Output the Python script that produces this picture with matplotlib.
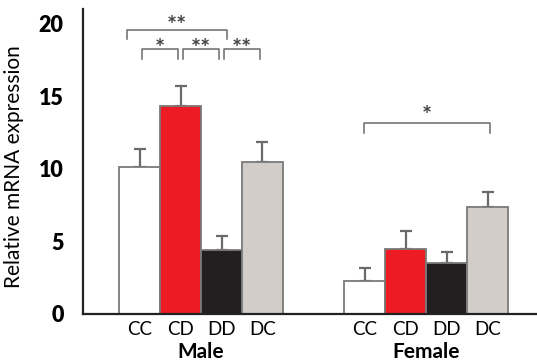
import numpy as np
import matplotlib
matplotlib.use('Agg')
import matplotlib.pyplot as plt

plt.rcParams['font.family'] = ['Lato', 'DejaVu Sans']

# data
genotypes = ['CC', 'CD', 'DD', 'DC']
groups = ['Male', 'Female']
male_mean = [10.1, 14.3, 4.4, 10.5]
male_err = [1.3, 1.4, 0.95, 1.35]
female_mean = [2.3, 4.5, 3.5, 7.4]
female_err = [0.85, 1.2, 0.75, 1.0]
bar_colors = ['#ffffff', '#ed1c24', '#231f20', '#d3cdca']

# significance brackets: (group, first bar, last bar, label)
brackets = [
    (0, 0, 2, '**'),
    (0, 0, 1, '*'),
    (0, 1, 2, '**'),
    (0, 2, 3, '**'),
    (1, 0, 3, '*'),
]

fig = plt.figure(figsize=(5.37, 3.62), dpi=100)
ax = fig.add_axes([0.1546, 0.1326, 0.8454, 0.842])

offsets = [0, 5.5]
means = [male_mean, female_mean]
errs = [male_err, female_err]
edge = '#7a7a7a'

for g in range(2):
    x = np.arange(4) + offsets[g]
    ax.bar(x, means[g], width=1.0, color=bar_colors, edgecolor=edge,
           linewidth=1.3, zorder=2)
    ax.errorbar(x, means[g], yerr=[np.zeros(4), errs[g]], fmt='none',
                ecolor='#6a6a6a', elinewidth=1.6, capsize=4.5,
                capthick=1.6, zorder=1)
    for xi, lab in zip(x, genotypes):
        ax.text(xi, -0.5, lab, ha='center', va='top', fontsize=13.5)
    ax.text(x.mean(), -1.95, groups[g], ha='center', va='top',
            fontsize=15, fontweight='bold')

# bracket geometry
for g, i, j, lab in brackets:
    x0 = offsets[g]
    if g == 0 and j - i > 1:
        xa, xb, y, dy = x0 + i - 0.3, x0 + j + 0.13, 19.6, 0.2
    elif g == 0:
        xa, xb, y, dy = x0 + i + 0.05, x0 + j - 0.07, 18.25, 0.0
    else:
        xa, xb, y, dy = x0 + i - 0.02, x0 + j + 0.05, 13.15, 0.45
    h = 0.65
    ax.plot([xa, xa, xb, xb], [y - h, y, y, y - h], color='#6a6a6a',
            lw=1.1, zorder=3, clip_on=False)
    ax.text((xa + xb) / 2, y + dy, lab, ha='center', va='center',
            fontsize=17, color='#444444', fontweight='bold')

ax.set_xlim(-1.38, 9.7)
ax.set_ylim(0, 21)
ax.set_yticks([0, 5, 10, 15, 20])
ax.set_yticklabels(['0', '5', '10', '15', '20'], fontsize=15.5, fontweight='heavy')
ax.tick_params(axis='y', length=0, pad=14)
ax.set_xticks([])
ax.spines['top'].set_visible(False)
ax.spines['right'].set_visible(False)
for s in ['left', 'bottom']:
    ax.spines[s].set_linewidth(1.6)
    ax.spines[s].set_color('#222222')
ax.set_ylabel('Relative mRNA expression', fontsize=15)
ax.yaxis.set_label_coords(-0.13, 0.485)

fig.savefig('out.png', dpi=100)
